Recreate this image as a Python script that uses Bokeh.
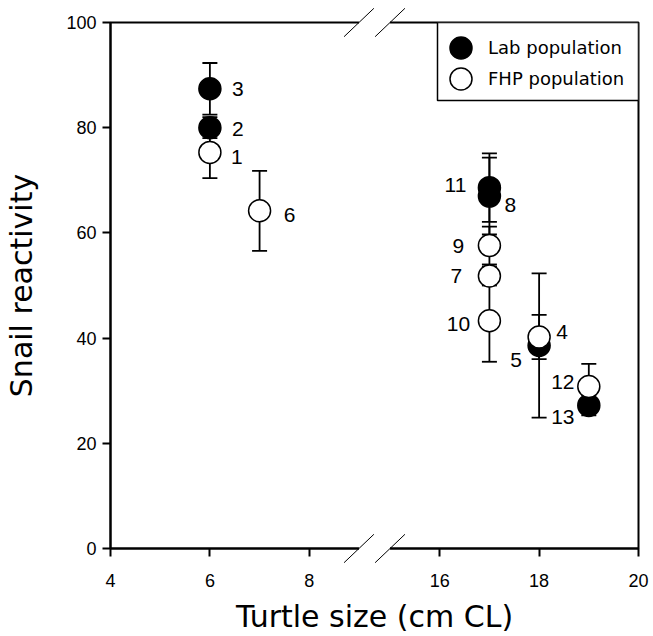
from bokeh.plotting import figure
from bokeh.models import (Range1d, FixedTicker, ColumnDataSource, Legend, LegendItem,
                          BoxAnnotation)
from bokeh.core.properties import value
from bokeh.embed import file_html
from bokeh.resources import INLINE

# ---- data ----
lab_ids = ["3", "2", "11", "8", "5", "13"]
lab_size = [6, 6, 17, 17, 18, 19]
lab_react = [87.4, 80.0, 68.6, 67.0, 38.6, 27.2]
lab_se = [4.9, 2.0, 6.5, 7.3, 13.7, 1.9]

fhp_ids = ["1", "6", "9", "7", "10", "4", "12"]
fhp_size = [6, 7, 17, 17, 17, 18, 19]
fhp_react = [75.3, 64.2, 57.6, 51.8, 43.3, 40.2, 30.8]
fhp_se = [4.9, 7.6, 3.6, 1.8, 7.8, 4.2, 4.3]

series_names = ["Lab population", "FHP population"]
x_tick_values = [4, 6, 8, 16, 18, 20]
y_tick_values = [0, 20, 40, 60, 80, 100]
x_title = "Turtle size (cm CL)"
y_title = "Snail reactivity"

# label offsets in pixels (style)
lab_dx = [28, 28, -34, 21, -23, -26]
lab_dy = [0, 1, -3, 9, 15, 12]
fhp_dx = [27, 30, -31, -33, -31, 23, -26]
fhp_dy = [5, 4, 0, 0, 3, -5, -4]

# ---- broken axis mapping: 4..9 | 15..20 ----
BREAK_LO = 9.0
BREAK_HI = 15.0
SHIFT = 5.375


def bx(v):
    return v if v <= BREAK_LO else v - SHIFT


FONT = "Liberation Sans"
TFONT = "DejaVu Sans"

p = figure(width=653, height=636, output_backend="svg", toolbar_location=None,
           x_range=Range1d(4, bx(20)), y_range=Range1d(0, 100),
           min_border_left=110, min_border_top=22, min_border_right=15,
           min_border_bottom=88)
p.grid.visible = False
p.outline_line_color = "black"
p.outline_line_width = 2
p.background_fill_color = "white"
p.border_fill_color = "white"

# axes
p.xaxis.ticker = FixedTicker(ticks=[bx(v) for v in x_tick_values])
p.xaxis.major_label_overrides = {bx(v): str(v) for v in x_tick_values}
p.yaxis.ticker = FixedTicker(ticks=y_tick_values)
for ax in (p.xaxis[0], p.yaxis[0]):
    ax.axis_line_width = 2
    ax.axis_line_color = "black"
    ax.major_tick_line_width = 2
    ax.major_tick_out = 8
    ax.major_tick_in = 0
    ax.minor_tick_out = 0
    ax.minor_tick_in = 0
    ax.major_label_text_font = FONT
    ax.major_label_text_font_size = "18px"
    ax.major_label_text_color = "black"
    ax.axis_label_text_font = TFONT
    ax.axis_label_text_font_size = "30px"
    ax.axis_label_text_font_style = "normal"
    ax.axis_label_text_color = "black"
p.xaxis.axis_label = x_title
p.yaxis.axis_label = y_title
p.xaxis.major_label_standoff = 17
p.xaxis.axis_label_standoff = 9
p.yaxis.major_label_standoff = 6
p.yaxis.axis_label_standoff = 24

# sources
lab = ColumnDataSource(dict(
    x=[bx(v) for v in lab_size], y=lab_react,
    lo=[a - b for a, b in zip(lab_react, lab_se)],
    hi=[a + b for a, b in zip(lab_react, lab_se)],
    t=lab_ids, dx=lab_dx, dy=lab_dy))
fhp = ColumnDataSource(dict(
    x=[bx(v) for v in fhp_size], y=fhp_react,
    lo=[a - b for a, b in zip(fhp_react, fhp_se)],
    hi=[a + b for a, b in zip(fhp_react, fhp_se)],
    t=fhp_ids, dx=fhp_dx, dy=fhp_dy))

MS = 22
EW = 1.8
CAP = 15

# Lab error bars + markers
p.segment(x0="x", y0="lo", x1="x", y1="hi", source=lab, line_color="black", line_width=EW)
p.scatter(x="x", y="lo", source=lab, marker="dash", size=CAP, line_color="black", line_width=EW)
p.scatter(x="x", y="hi", source=lab, marker="dash", size=CAP, line_color="black", line_width=EW)
lab_r = p.scatter(x="x", y="y", source=lab, marker="circle", size=MS,
                  fill_color="black", line_color="black", line_width=1.5)

# FHP error bars + markers
p.segment(x0="x", y0="lo", x1="x", y1="hi", source=fhp, line_color="black", line_width=EW)
p.scatter(x="x", y="lo", source=fhp, marker="dash", size=CAP, line_color="black", line_width=EW)
p.scatter(x="x", y="hi", source=fhp, marker="dash", size=CAP, line_color="black", line_width=EW)
fhp_r = p.scatter(x="x", y="y", source=fhp, marker="circle", size=MS,
                  fill_color="white", line_color="black", line_width=1.5)

# point labels
for src in (lab, fhp):
    p.text(x="x", y="y", text="t", source=src, x_offset="dx", y_offset="dy",
           text_align="center", text_baseline="middle",
           text_font=value(FONT), text_font_size="21px", text_color="black")

# axis-break masks and slashes (bottom and top frame lines)
brk = ColumnDataSource(dict(
    left=[BREAK_LO, BREAK_LO], right=[bx(BREAK_HI), bx(BREAK_HI)],
    bottom=[-0.8, 99.2], top=[0.8, 100.8]))
p.quad(left="left", right="right", bottom="bottom", top="top", source=brk,
       fill_color="white", line_color=None, level="overlay")
sl_x = [BREAK_LO, bx(BREAK_HI), BREAK_LO, bx(BREAK_HI)]
sl_y = [0, 0, 100, 100]
slash = ColumnDataSource(dict(
    x0=[v - 0.3 for v in sl_x], x1=[v + 0.3 for v in sl_x],
    y0=[v - 2.7 for v in sl_y], y1=[v + 2.7 for v in sl_y]))
p.segment(x0="x0", y0="y0", x1="x1", y1="y1", source=slash,
          line_color="black", line_width=1, level="overlay")

# legend: box + one legend per row (so rows can sit closer than the glyph box)
p.add_layout(BoxAnnotation(left=327, right=528, top=526, bottom=448,
                           left_units="screen", right_units="screen",
                           top_units="screen", bottom_units="screen",
                           fill_color="white", fill_alpha=1.0,
                           line_color="black", line_alpha=1.0, line_width=1.5,
                           level="annotation"))
for name, rend, loc in zip(series_names, [lab_r, fhp_r], [(323, 473), (323, 442)]):
    lg = Legend(items=[LegendItem(label=name, renderers=[rend])],
                location=loc, margin=0, padding=0, spacing=0,
                glyph_width=55, glyph_height=55, label_standoff=0,
                border_line_color=None, background_fill_alpha=0.0,
                label_text_font=TFONT, label_text_font_size="18px",
                label_text_color="black")
    p.add_layout(lg)

open("out.html", "w").write(file_html(p, INLINE))
